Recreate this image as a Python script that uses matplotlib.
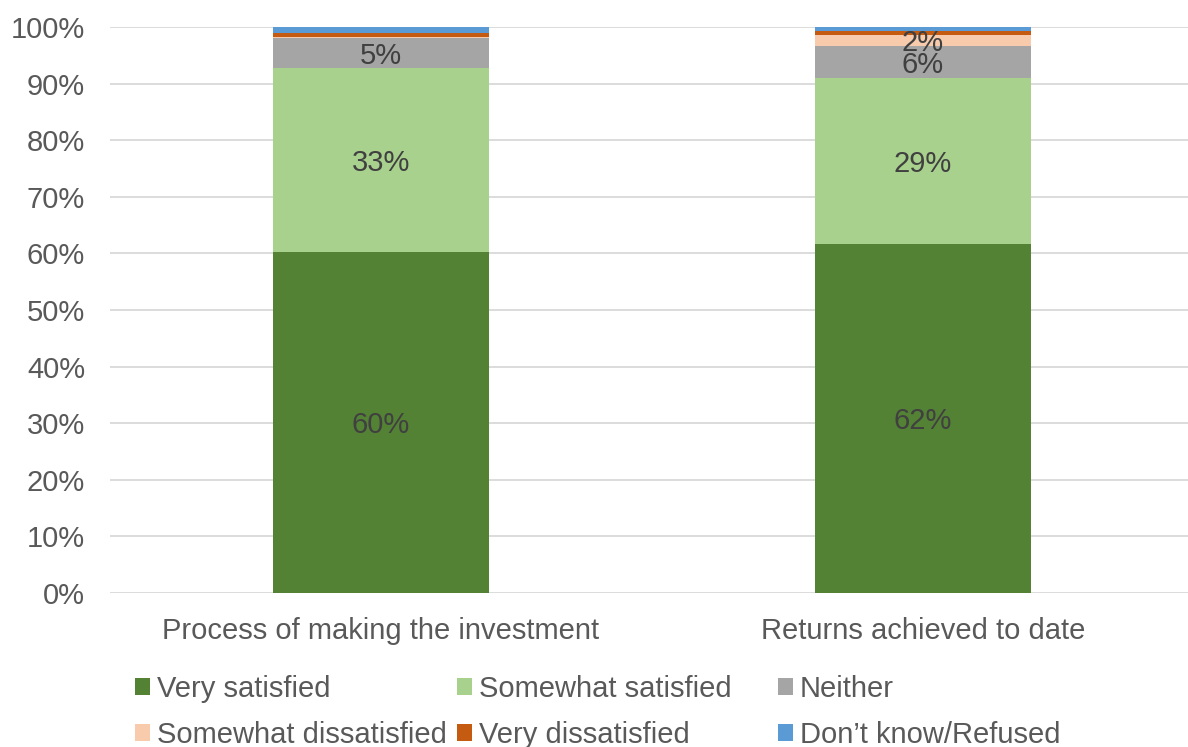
import matplotlib
matplotlib.use("Agg")
import matplotlib.pyplot as plt
import numpy as np

plt.rcParams['font.family'] = ['Liberation Sans', 'DejaVu Sans']

categories = ["Process of making the investment", "Returns achieved to date"]
series_names = ["Very satisfied", "Somewhat satisfied", "Neither",
                "Somewhat dissatisfied", "Very dissatisfied", "Don\u2019t know/Refused"]
very_satisfied = [60.2, 61.7]
somewhat_satisfied = [32.6, 29.3]
neither = [5.3, 5.7]
somewhat_dissatisfied = [0.2, 1.9]
very_dissatisfied = [0.6, 0.75]
dont_know = [1.1, 0.65]
yticks = [0, 10, 20, 30, 40, 50, 60, 70, 80, 90, 100]

series = [very_satisfied, somewhat_satisfied, neither,
          somewhat_dissatisfied, very_dissatisfied, dont_know]
colors = ["#548235", "#A9D18E", "#A5A5A5", "#F8CBAD", "#C55A11", "#5B9BD5"]

FS = 21
W, H = 1188, 747
fig = plt.figure(figsize=(W / 100, H / 100), dpi=100)
ax = fig.add_axes([110 / W, (H - 593) / H, 1084 / W, 566 / H])

x = np.arange(len(categories))
bottom = np.zeros(len(categories))
handles = []
for name, vals, col in zip(series_names, series, colors):
    vals = np.array(vals, dtype=float)
    bars = ax.bar(x, vals, width=0.4, bottom=bottom, color=col, label=name, zorder=3)
    handles.append(bars)
    for xi, v, b in zip(x, vals, bottom):
        if v >= 1.5:
            ax.annotate(f"{v:.0f}%", (xi, b + v / 2), xytext=(0, -2),
                        textcoords="offset points", ha="center", va="center",
                        fontsize=FS, color="#404040", zorder=4)
    bottom += vals

ax.set_xlim(-0.5, 1.5)
ax.set_ylim(0, 100)
ax.set_yticks(yticks)
ax.set_yticklabels([f"{t}%" for t in yticks])
ax.set_xticks(x)
ax.set_xticklabels(categories)
ax.tick_params(axis="both", length=0, labelsize=FS, colors="#595959")
ax.tick_params(axis="y", pad=18)
ax.tick_params(axis="x", pad=17)
ax.grid(axis="y", color="#D9D9D9", linewidth=1.3, zorder=0)
for s in ax.spines.values():
    s.set_visible(False)

# legend laid out as three columns of two entries
col_x = [135, 457, 778]
for c in range(3):
    hs = [handles[c], handles[c + 3]]
    ls = [series_names[c], series_names[c + 3]]
    leg = fig.legend(hs, ls, loc="upper left",
                     bbox_to_anchor=(col_x[c] / W, 1 - 675 / H),
                     frameon=False, fontsize=FS, handlelength=0.51,
                     handleheight=0.51, handletextpad=0.24, labelspacing=0.62,
                     borderpad=0, borderaxespad=0)
    for t in leg.get_texts():
        t.set_color("#595959")

fig.savefig("out.png", dpi=100)
